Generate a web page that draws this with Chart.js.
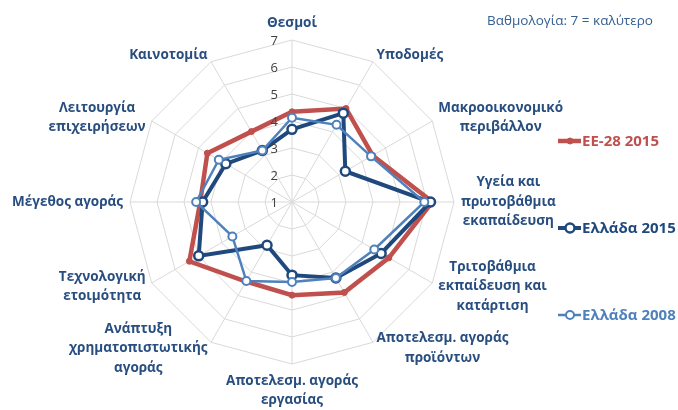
<!DOCTYPE html>
<html lang="el">
<head>
  <meta charset="UTF-8">
  <title>Δείκτης ανταγωνιστικότητας</title>
  <script src="https://cdn.jsdelivr.net/npm/chart.js"></script>
  <style>
    html, body { margin: 0; padding: 0; background: #fff; }
  </style>
</head>
<body>
  <canvas id="radarChart" width="678" height="410"></canvas>

  <script>
    // categories, clockwise from the top
    const categories = [
      ['Θεσμοί'],
      ['Υποδομές'],
      ['Μακροοικονομικό', 'περιβάλλον'],
      ['Υγεία και', 'πρωτοβάθμια', 'εκαπαίδευση'],
      ['Τριτοβάθμια', 'εκπαίδευση και', 'κατάρτιση'],
      ['Αποτελεσμ. αγοράς', 'προϊόντων'],
      ['Αποτελεσμ. αγοράς', 'εργασίας'],
      ['Ανάπτυξη', 'χρηματοπιστωτικής', 'αγοράς'],
      ['Τεχνολογική', 'ετοιμότητα'],
      ['Μέγεθος αγοράς'],
      ['Λειτουργία', 'επιχειρήσεων'],
      ['Καινοτομία']
    ];

    const eu28_2015 = [4.34, 5.0, 4.45, 6.2, 5.14, 4.87, 4.45, 4.4, 5.39, 4.4, 4.62, 4.01];
    const greece2015 = [3.69, 4.8, 3.28, 6.13, 4.81, 4.25, 3.71, 2.85, 4.99, 4.31, 3.83, 3.2];
    const greece2008 = [4.12, 4.3, 4.38, 5.9, 4.52, 4.25, 3.96, 4.38, 3.55, 4.55, 4.13, 3.2];

    const seriesNames = ['ΕΕ-28 2015', 'Ελλάδα 2015', 'Ελλάδα 2008'];
    const scaleMin = 1;
    const scaleMax = 7;
    const note = 'Βαθμολογία: 7 = καλύτερο';

    const labelColor = '#284E80';
    const fontFamily = '"Open Sans", "Noto Sans", sans-serif';

    // point labels, tick labels, legend and note drawn on the canvas
    const textPlugin = {
      id: 'textPlugin',
      afterDraw(chart) {
        const ctx = chart.ctx;
        const r = chart.scales.r;
        ctx.save();

        // tick labels, left of the vertical axis
        ctx.font = '13px ' + fontFamily;
        ctx.fillStyle = '#404040';
        ctx.textAlign = 'right';
        ctx.textBaseline = 'middle';
        r.ticks.forEach(t => {
          const y = r.yCenter - r.getDistanceFromCenterForValue(t.value);
          ctx.fillText(String(t.value), r.xCenter - 14, y + 1);
        });

        // category labels
        ctx.font = 'bold 13.5px ' + fontFamily;
        ctx.fillStyle = labelColor;
        ctx.textAlign = 'center';
        ctx.textBaseline = 'middle';
        const lh = 19.5;
        categories.forEach((lines, i) => {
          const p = r.getPointPosition(i, r.drawingArea + 7);
          const dx = Math.cos(p.angle), dy = Math.sin(p.angle);
          const w = Math.max(...lines.map(s => ctx.measureText(s).width));
          const h = lines.length * lh;
          let cx = p.x, top;
          if (Math.abs(dx) < 0.1) {
            top = dy < 0 ? p.y - h : p.y;
          } else {
            cx = dx > 0 ? p.x + w / 2 : p.x - w / 2;
            top = p.y - h / 2;
          }
          lines.forEach((s, k) => ctx.fillText(s, cx, top + lh * k + lh / 2));
        });

        // note, top right
        ctx.font = '13.5px ' + fontFamily;
        ctx.fillStyle = '#366092';
        ctx.fillText(note, 570, 21);

        // legend
        const legendY = [141, 228, 315];
        chart.data.datasets.forEach((ds, i) => {
          const y = legendY[i];
          ctx.strokeStyle = ds.borderColor;
          ctx.lineWidth = ds.borderWidth;
          ctx.beginPath();
          ctx.moveTo(558, y);
          ctx.lineTo(581, y);
          ctx.stroke();
          ctx.beginPath();
          ctx.arc(570, y, ds.pointRadius, 0, Math.PI * 2);
          ctx.fillStyle = ds.pointBackgroundColor;
          ctx.fill();
          ctx.lineWidth = ds.pointBorderWidth;
          ctx.strokeStyle = ds.pointBorderColor;
          ctx.stroke();
          ctx.font = 'bold 15px ' + fontFamily;
          ctx.fillStyle = ds.borderColor;
          ctx.textAlign = 'left';
          ctx.fillText(ds.label, 582, y + 1);
        });

        ctx.restore();
      }
    };

    const ctx = document.getElementById('radarChart').getContext('2d');
    new Chart(ctx, {
      type: 'radar',
      data: {
        labels: categories,
        datasets: [
          {
            label: seriesNames[0],
            data: eu28_2015,
            borderColor: '#C0504D',
            borderWidth: 4.5,
            pointRadius: 3,
            pointBackgroundColor: '#C0504D',
            pointBorderColor: '#C0504D',
            pointBorderWidth: 1,
            fill: false,
            order: 3
          },
          {
            label: seriesNames[1],
            data: greece2015,
            borderColor: '#1F497D',
            borderWidth: 4,
            pointRadius: 4.5,
            pointBackgroundColor: '#ffffff',
            pointBorderColor: '#1F497D',
            pointBorderWidth: 2.5,
            fill: false,
            order: 2
          },
          {
            label: seriesNames[2],
            data: greece2008,
            borderColor: '#4F81BD',
            borderWidth: 2.5,
            pointRadius: 4,
            pointBackgroundColor: '#ffffff',
            pointBorderColor: '#4F81BD',
            pointBorderWidth: 2,
            fill: false,
            order: 1
          }
        ]
      },
      options: {
        responsive: false,
        animation: false,
        elements: { line: { tension: 0 } },
        plugins: {
          legend: { display: false },
          tooltip: { enabled: false }
        },
        scales: {
          r: {
            min: scaleMin,
            max: scaleMax,
            ticks: { stepSize: 1, display: false },
            grid: { color: '#D9D9D9', lineWidth: 1 },
            angleLines: { color: '#D9D9D9', lineWidth: 1 },
            pointLabels: { display: false },
            afterFit(scale) {
              scale.xCenter = 292;
              scale.yCenter = 202;
              scale.drawingArea = 162;
            }
          }
        }
      },
      plugins: [textPlugin]
    });
  </script>
</body>
</html>
